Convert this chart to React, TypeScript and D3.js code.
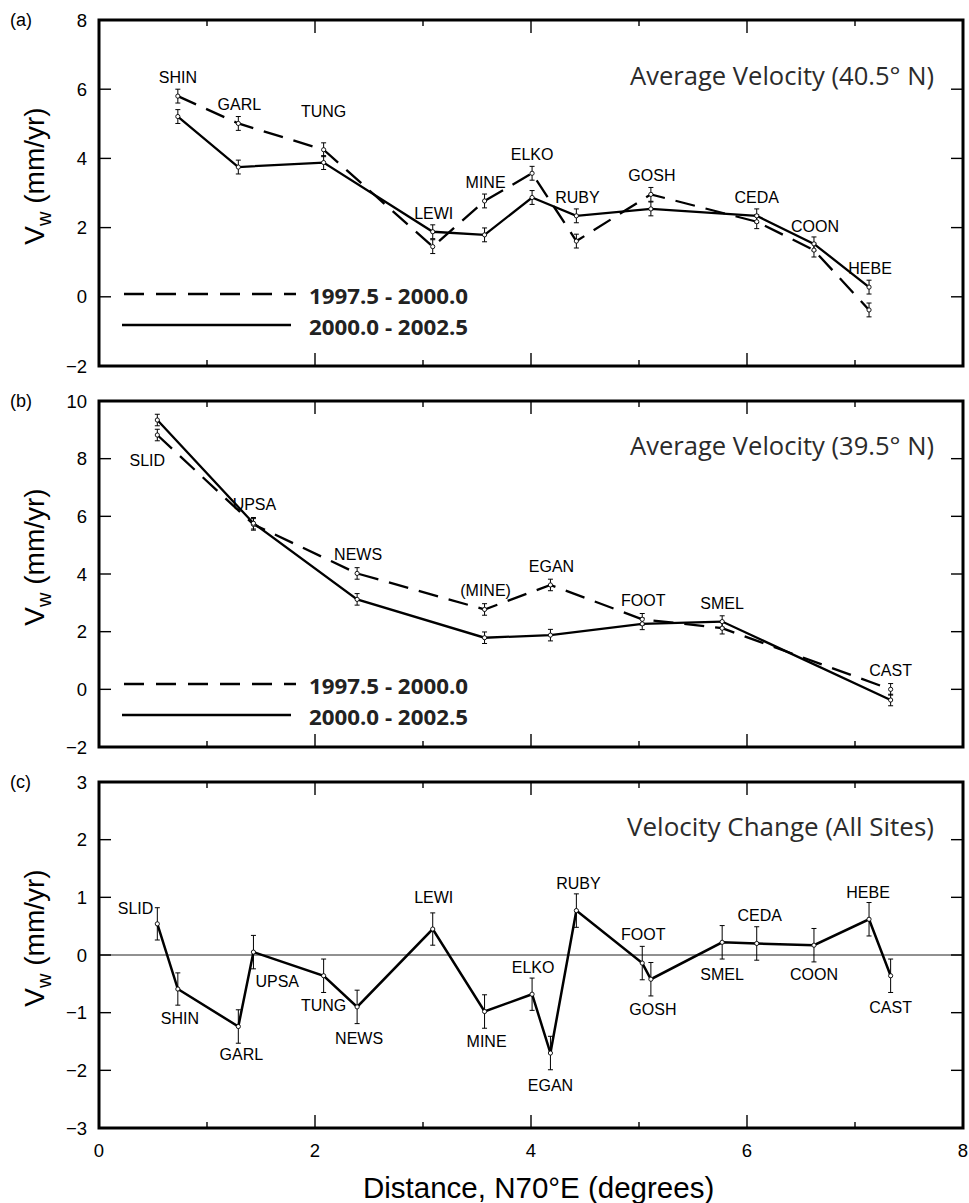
import React from "react";
import * as d3 from "d3";

// ---------------- data ----------------
const xMajorTicks = [0, 2, 4, 6, 8];
const xMinorTicks = [1, 3, 5, 7];

// Panel (a): 40.5° N
const stationsA = ["SHIN", "GARL", "TUNG", "LEWI", "MINE", "ELKO", "RUBY", "GOSH", "CEDA", "COON", "HEBE"];
const distA = [0.73, 1.29, 2.08, 3.09, 3.57, 4.01, 4.42, 5.11, 6.09, 6.62, 7.13];
const earlyA = [5.8, 5.01, 4.25, 1.45, 2.77, 3.57, 1.61, 2.96, 2.17, 1.35, -0.38];
const lateA = [5.21, 3.75, 3.88, 1.88, 1.79, 2.87, 2.34, 2.54, 2.34, 1.53, 0.28];
const errEarlyA = [0.2, 0.2, 0.2, 0.2, 0.2, 0.2, 0.2, 0.2, 0.2, 0.2, 0.2];
const errLateA = [0.2, 0.2, 0.2, 0.2, 0.2, 0.2, 0.2, 0.2, 0.2, 0.2, 0.2];
const yTicksA = [-2, 0, 2, 4, 6, 8];

// Panel (b): 39.5° N
const stationsB = ["SLID", "UPSA", "NEWS", "(MINE)", "EGAN", "FOOT", "SMEL", "CAST"];
const distB = [0.54, 1.43, 2.39, 3.57, 4.18, 5.03, 5.77, 7.33];
const earlyB = [8.82, 5.72, 4.02, 2.77, 3.62, 2.43, 2.12, 0.0];
const lateB = [9.34, 5.76, 3.12, 1.79, 1.88, 2.27, 2.35, -0.37];
const errEarlyB = [0.2, 0.2, 0.2, 0.2, 0.2, 0.2, 0.2, 0.2];
const errLateB = [0.2, 0.2, 0.2, 0.2, 0.2, 0.2, 0.2, 0.2];
const yTicksB = [-2, 0, 2, 4, 6, 8, 10];

// Panel (c): velocity change, all sites
const stationsC = ["SLID", "SHIN", "GARL", "UPSA", "TUNG", "NEWS", "LEWI", "MINE", "ELKO", "EGAN", "RUBY", "FOOT", "GOSH", "SMEL", "CEDA", "COON", "HEBE", "CAST"];
const distC = [0.54, 0.73, 1.29, 1.43, 2.08, 2.39, 3.09, 3.57, 4.01, 4.18, 4.42, 5.03, 5.11, 5.77, 6.09, 6.62, 7.13, 7.33];
const changeC = [0.54, -0.59, -1.24, 0.05, -0.36, -0.9, 0.45, -0.98, -0.68, -1.7, 0.77, -0.14, -0.42, 0.22, 0.2, 0.17, 0.62, -0.36];
const errC = [0.28, 0.28, 0.29, 0.29, 0.29, 0.29, 0.28, 0.29, 0.28, 0.29, 0.29, 0.29, 0.29, 0.29, 0.29, 0.29, 0.29, 0.29];
const yTicksC = [-3, -2, -1, 0, 1, 2, 3];

const legendLabels = ["1997.5 - 2000.0", "2000.0 - 2002.5"];

// ---------------- label layout (pixel offsets) ----------------
type Lab = { dx: number; dy: number; anchor?: string };
const labA: Record<string, Lab> = {
  SHIN: { dx: 0, dy: -13 }, GARL: { dx: 1, dy: -13 }, TUNG: { dx: 0, dy: -33 }, LEWI: { dx: 1, dy: -13 },
  MINE: { dx: 1, dy: -13 }, ELKO: { dx: 0, dy: -13 }, RUBY: { dx: 1, dy: -12.5 }, GOSH: { dx: 1, dy: -13 },
  CEDA: { dx: 0, dy: -13 }, COON: { dx: 1, dy: -12 }, HEBE: { dx: 1, dy: -13 },
};
const labB: Record<string, Lab> = {
  SLID: { dx: -10, dy: 46 }, UPSA: { dx: 1, dy: -13 }, NEWS: { dx: 1, dy: -13 }, "(MINE)": { dx: 1, dy: -13 },
  EGAN: { dx: 1, dy: -13 }, FOOT: { dx: 1, dy: -13.5 }, SMEL: { dx: 0, dy: -13 }, CAST: { dx: 0, dy: -13 },
};
const labC: Record<string, Lab> = {
  SLID: { dx: -4, dy: -10, anchor: "end" }, SHIN: { dx: 2, dy: 35 }, GARL: { dx: 3, dy: 33 },
  UPSA: { dx: 2, dy: 35, anchor: "start" }, TUNG: { dx: 0, dy: 35 }, NEWS: { dx: 2, dy: 37 },
  LEWI: { dx: 1, dy: -26 }, MINE: { dx: 2, dy: 35 }, ELKO: { dx: 1, dy: -21 }, EGAN: { dx: 0, dy: 38 },
  RUBY: { dx: 2, dy: -22 }, FOOT: { dx: 1, dy: -23 }, GOSH: { dx: 2, dy: 36 }, SMEL: { dx: 0, dy: 38 },
  CEDA: { dx: 3, dy: -22 }, COON: { dx: 0, dy: 35 }, HEBE: { dx: -1, dy: -21 }, CAST: { dx: 0, dy: 37 },
};

// ---------------- layout ----------------
const W = 969;
const H = 1203;
const left = 99;
const right = 963;
const panelH = 346;
const tops = [20, 401, 782];
const SANS = "'Liberation Sans', Arial, Helvetica, sans-serif";
const HUM = "'Open Sans', 'Noto Sans', sans-serif";

const x = d3.scaleLinear().domain([0, 8]).range([left, right]);

type Pt = { d: number; v: number; e: number };

function ErrPoints({ pts, y }: { pts: Pt[]; y: d3.ScaleLinear<number, number> }) {
  return (
    <g>
      {pts.map((p, i) => {
        const cx = x(p.d);
        const y1 = y(p.v - p.e);
        const y2 = y(p.v + p.e);
        return (
          <g key={i}>
            <line x1={cx} x2={cx} y1={y1} y2={y2} stroke="#000" strokeWidth={1} />
            <line x1={cx - 2.5} x2={cx + 2.5} y1={y1} y2={y1} stroke="#000" strokeWidth={1} />
            <line x1={cx - 2.5} x2={cx + 2.5} y1={y2} y2={y2} stroke="#000" strokeWidth={1} />
          </g>
        );
      })}
    </g>
  );
}

function Dots({ pts, y }: { pts: Pt[]; y: d3.ScaleLinear<number, number> }) {
  return (
    <g>
      {pts.map((p, i) => (
        <circle key={i} cx={x(p.d)} cy={y(p.v)} r={2.1} fill="#fff" stroke="#000" strokeWidth={0.9} />
      ))}
    </g>
  );
}

function Frame({ top, y, yTicks, letter }: { top: number; y: d3.ScaleLinear<number, number>; yTicks: number[]; letter: string }) {
  const bottom = top + panelH;
  return (
    <g>
      {yTicks.map((t) => (
        <g key={"y" + t}>
          <line x1={left} x2={left + 12} y1={y(t)} y2={y(t)} stroke="#000" strokeWidth={1.4} />
          <line x1={right - 12} x2={right} y1={y(t)} y2={y(t)} stroke="#000" strokeWidth={1.4} />
          <text x={87} y={y(t)} dy="0.36em" textAnchor="end" fontFamily={SANS} fontSize={18.5} fill="#000">
            {t < 0 ? "\u2212" + Math.abs(t) : String(t)}
          </text>
        </g>
      ))}
      {xMajorTicks.map((t) => (
        <g key={"xm" + t}>
          <line x1={x(t)} x2={x(t)} y1={top} y2={top + 13} stroke="#000" strokeWidth={1.4} />
          <line x1={x(t)} x2={x(t)} y1={bottom} y2={bottom - 13} stroke="#000" strokeWidth={1.4} />
        </g>
      ))}
      {xMinorTicks.map((t) => (
        <g key={"xn" + t}>
          <line x1={x(t)} x2={x(t)} y1={top} y2={top + 6} stroke="#000" strokeWidth={1.4} />
          <line x1={x(t)} x2={x(t)} y1={bottom} y2={bottom - 6} stroke="#000" strokeWidth={1.4} />
        </g>
      ))}
      <rect x={left} y={top} width={right - left} height={panelH} fill="none" stroke="#000" strokeWidth={3} />
      <text x={10} y={top} dy="0.36em" fontFamily={SANS} fontSize={18} fill="#000">{letter}</text>
      <text
        transform={`translate(44,${top + panelH / 2 - 17}) rotate(-90)`}
        textAnchor="middle"
        fontFamily={SANS}
        fontSize={28}
        fill="#000"
      >
        <tspan>V</tspan>
        <tspan fontSize={20} dy={7}>w</tspan>
        <tspan dy={-7}> (mm/yr)</tspan>
      </text>
    </g>
  );
}

function Legend({ y0, y1 }: { y0: number; y1: number }) {
  return (
    <g>
      <line x1={124} x2={296} y1={y0} y2={y0} stroke="#000" strokeWidth={2.3} strokeDasharray="20 12" />
      <line x1={122} x2={291} y1={y1} y2={y1} stroke="#000" strokeWidth={2.3} />
      <text x={309} y={y0 + 9.5} fontFamily={HUM} fontWeight={700} fontSize={22} fill="#222" textLength={159} lengthAdjust="spacingAndGlyphs">
        {legendLabels[0]}
      </text>
      <text x={309} y={y1 + 9.5} fontFamily={HUM} fontWeight={700} fontSize={22} fill="#222" textLength={159} lengthAdjust="spacingAndGlyphs">
        {legendLabels[1]}
      </text>
    </g>
  );
}

function VelocityPanel({
  top, domain, yTicks, letter, title, stations, dist, early, late, errE, errL, labs, legendY,
}: {
  top: number; domain: [number, number]; yTicks: number[]; letter: string; title: string;
  stations: string[]; dist: number[]; early: number[]; late: number[]; errE: number[]; errL: number[];
  labs: Record<string, Lab>; legendY: [number, number];
}) {
  const y = d3.scaleLinear().domain(domain).range([top + panelH, top]);
  const ptsE: Pt[] = dist.map((d, i) => ({ d, v: early[i], e: errE[i] }));
  const ptsL: Pt[] = dist.map((d, i) => ({ d, v: late[i], e: errL[i] }));
  const line = d3.line<Pt>().x((p) => x(p.d)).y((p) => y(p.v));
  return (
    <g>
      <Frame top={top} y={y} yTicks={yTicks} letter={letter} />
      <text x={934} y={top + (letter === "(a)" ? 65 : 54)} textAnchor="end" fontFamily={HUM} fontSize={25} fill="#2b2b2b" textLength={304} lengthAdjust="spacingAndGlyphs">
        {title}
      </text>
      <path d={line(ptsE) || ""} fill="none" stroke="#000" strokeWidth={2.3} strokeDasharray="20 11" />
      <path d={line(ptsL) || ""} fill="none" stroke="#000" strokeWidth={2.3} />
      <ErrPoints pts={ptsE} y={y} />
      <ErrPoints pts={ptsL} y={y} />
      <Dots pts={ptsE} y={y} />
      <Dots pts={ptsL} y={y} />
      {stations.map((s, i) => {
        const l = labs[s];
        const py = Math.min(y(early[i]), y(late[i]));
        return (
          <text key={s} x={x(dist[i]) + l.dx} y={py + l.dy} textAnchor={l.anchor || "middle"} fontFamily={SANS} fontSize={16} fill="#000">
            {s}
          </text>
        );
      })}
      <Legend y0={legendY[0]} y1={legendY[1]} />
    </g>
  );
}

function ChangePanel({ top }: { top: number }) {
  const y = d3.scaleLinear().domain([-3, 3]).range([top + panelH, top]);
  const pts: Pt[] = distC.map((d, i) => ({ d, v: changeC[i], e: errC[i] }));
  const line = d3.line<Pt>().x((p) => x(p.d)).y((p) => y(p.v));
  return (
    <g>
      <line x1={left} x2={right} y1={y(0)} y2={y(0)} stroke="#222" strokeWidth={1} />
      <Frame top={top} y={y} yTicks={yTicksC} letter="(c)" />
      <text x={934} y={top + 54} textAnchor="end" fontFamily={HUM} fontSize={25} fill="#2b2b2b" textLength={307} lengthAdjust="spacingAndGlyphs">
        Velocity Change (All Sites)
      </text>
      <path d={line(pts) || ""} fill="none" stroke="#000" strokeWidth={2.5} />
      <ErrPoints pts={pts} y={y} />
      <Dots pts={pts} y={y} />
      {stationsC.map((s, i) => {
        const l = labC[s];
        return (
          <text key={s} x={x(distC[i]) + l.dx} y={y(changeC[i]) + l.dy} textAnchor={l.anchor || "middle"} fontFamily={SANS} fontSize={16} fill="#000">
            {s}
          </text>
        );
      })}
      {xMajorTicks.map((t) => (
        <text key={t} x={x(t)} y={top + panelH + 22} dy="0.36em" textAnchor="middle" fontFamily={SANS} fontSize={18.5} fill="#000">
          {t}
        </text>
      ))}
      <text x={363} y={1198} fontFamily={SANS} fontSize={29.5} fill="#000">
        Distance, N70°E (degrees)
      </text>
    </g>
  );
}

export default function App() {
  return (
    <svg width={W} height={H} viewBox={`0 0 ${W} ${H}`} style={{ position: "absolute", left: 0, top: 0, background: "#fff" }}>
      <rect x={0} y={0} width={W} height={H} fill="#fff" />
      <VelocityPanel
        top={tops[0]} domain={[-2, 8]} yTicks={yTicksA} letter="(a)" title="Average Velocity (40.5° N)"
        stations={stationsA} dist={distA} early={earlyA} late={lateA} errE={errEarlyA} errL={errLateA}
        labs={labA} legendY={[294, 325]}
      />
      <VelocityPanel
        top={tops[1]} domain={[-2, 10]} yTicks={yTicksB} letter="(b)" title="Average Velocity (39.5° N)"
        stations={stationsB} dist={distB} early={earlyB} late={lateB} errE={errEarlyB} errL={errLateB}
        labs={labB} legendY={[684, 715]}
      />
      <ChangePanel top={tops[2]} />
    </svg>
  );
}
